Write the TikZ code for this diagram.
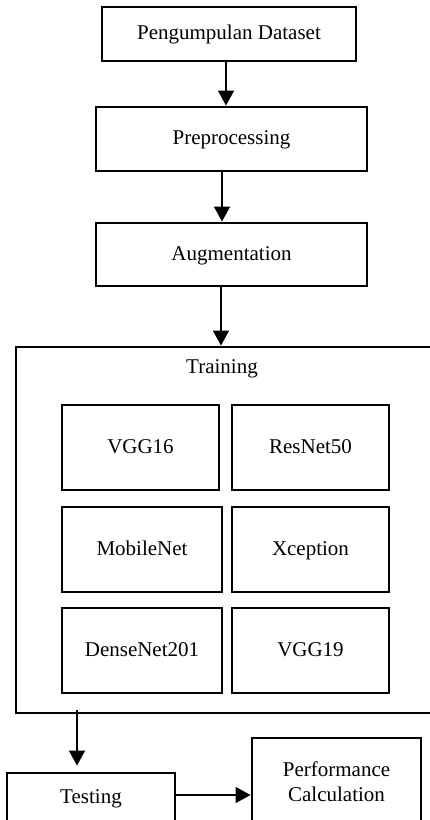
\documentclass[tikz,border=0pt]{standalone}
\usepackage{fontspec}
\setmainfont{Liberation Serif}
\usetikzlibrary{arrows.meta}
\begin{document}
\begin{tikzpicture}[x=1pt,y=-1pt,
  frame/.style={draw=black,line width=2.9pt,minimum width=#1,inner sep=0pt,font=\fontsize{21}{25}\selectfont},
  box/.style={frame=#1,text height=15pt,text depth=4pt},
  arr/.style={line width=1.4pt,-{Triangle[width=16pt,length=15pt]}},
  lbl/.style={font=\fontsize{21}{25}\selectfont,inner sep=0pt}]
\useasboundingbox (0,0) rectangle (430,820);
\clip (0,0) rectangle (430,820);
\fill[white] (0,0) rectangle (430,820);
\node[box=254pt,minimum height=54pt] (pd) at (229,34) {Pengumpulan Dataset};
\node[box=271pt,minimum height=64pt] (pre) at (231.5,139) {Preprocessing};
\node[box=271pt,minimum height=63pt] (aug) at (231.5,254.5) {Augmentation};
\node[frame=430pt,minimum height=366pt] (train) at (231,530) {};
\node[lbl] (trl) at (222,369) {Training};
\node[box=157pt,minimum height=85pt] (v16) at (140.5,447.5) {VGG16};
\node[box=157pt,minimum height=85pt] (r50) at (310.5,447.5) {ResNet50};
\node[box=160pt,minimum height=85pt] (mob) at (142,549.5) {MobileNet};
\node[box=157pt,minimum height=85pt] (xce) at (310.5,549.5) {Xception};
\node[box=160pt,minimum height=85pt] (den) at (142,650.5) {DenseNet201};
\node[box=157pt,minimum height=85pt] (v19) at (310.5,650.5) {VGG19};
\node[box=168pt,minimum height=50pt] (test) at (91,798) {Testing};
\node[frame=169pt,minimum height=88pt,align=center] (perf) at (336.5,782) {Performance\\Calculation};
\draw[arr] ([xshift=-3pt]pd.south) -- ([xshift=-3pt]pd.south |- pre.north);
\draw[arr] ([xshift=-9.5pt]pre.south) -- ([xshift=-9.5pt]pre.south |- aug.north);
\draw[arr] ([xshift=-10.5pt]aug.south) -- ([xshift=-10.5pt]aug.south |- train.north);
\coordinate (tstart) at ([yshift=4pt]train.south -| 77,0);
\draw[arr,shorten >=6pt] (tstart) -- (tstart |- test.north);
\draw[arr] (test.east |- 0,795) -- (perf.west |- 0,795);
\end{tikzpicture}
\end{document}
